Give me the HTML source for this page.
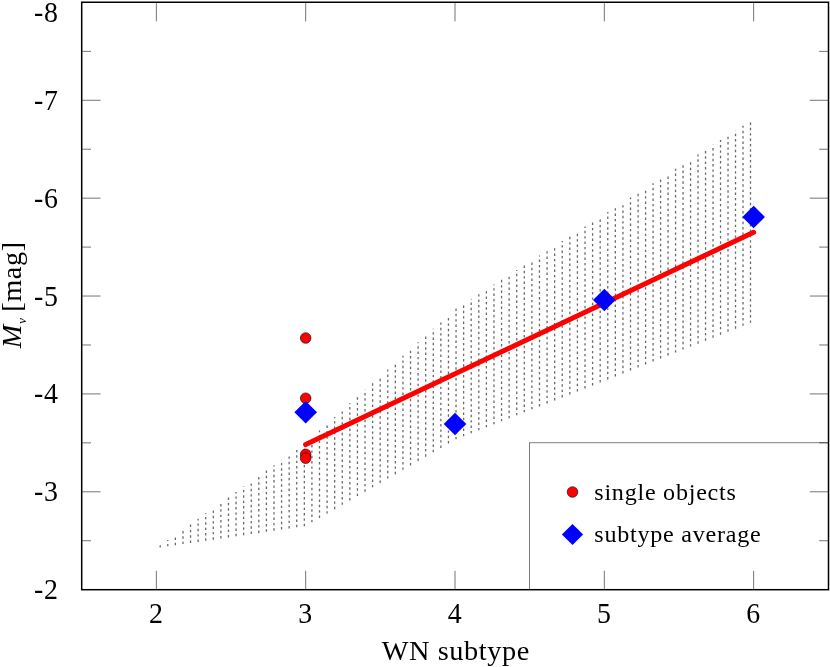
<!DOCTYPE html>
<html><head><meta charset="utf-8"><title>WN subtype vs Mv</title>
<style>html,body{margin:0;padding:0;background:#fff}svg{display:block;will-change:transform}text{font-family:"Liberation Serif",serif}</style>
</head><body>
<svg width="830" height="667" viewBox="0 0 830 667">
<rect width="830" height="667" fill="#fff"/>
<path d="M160.20 547.49V545.36M167.79 546.37V540.01M175.37 545.25V534.67M182.96 544.12V529.32M190.54 543.00V523.98M198.13 541.88V518.63M205.71 540.75V513.29M213.30 539.63V507.94M220.89 538.51V502.60M228.47 537.38V497.25M236.06 536.26V491.91M243.64 535.13V486.56M251.23 534.01V481.22M258.81 532.89V475.87M266.40 531.76V470.53M273.99 530.64V465.18M281.57 529.52V459.84M289.16 528.39V454.49M296.74 527.27V449.15M304.33 526.14V443.80M311.91 522.34V437.27M319.50 517.96V430.49M327.09 513.58V423.70M334.67 509.20V416.91M342.26 504.82V410.12M349.84 500.44V403.34M357.43 496.06V396.55M365.01 491.68V389.76M372.60 487.30V382.98M380.19 482.92V376.19M387.77 478.54V369.40M395.36 474.16V362.62M402.94 469.78V355.83M410.53 465.40V349.04M418.11 461.02V342.25M425.70 456.64V335.47M433.29 452.26V328.68M440.87 447.88V321.89M448.46 443.50V315.11M456.04 439.31V308.59M463.63 436.31V303.77M471.21 433.32V298.94M478.80 430.33V294.12M486.39 427.33V289.30M493.97 424.34V284.48M501.56 421.35V279.65M509.14 418.35V274.83M516.73 415.36V270.01M524.31 412.37V265.18M531.90 409.37V260.36M539.49 406.38V255.54M547.07 403.39V250.71M554.66 400.39V245.89M562.24 397.40V241.07M569.83 394.41V236.25M577.41 391.41V231.42M585.00 388.42V226.60M592.59 385.43V221.78M600.17 382.44V216.95M607.76 379.44V212.12M615.34 376.43V207.27M622.93 373.42V202.42M630.51 370.41V197.58M638.10 367.40V192.73M645.59 364.43V187.94M653.09 361.46V183.15M660.58 358.49V178.36M668.07 355.52V173.57M675.57 352.55V168.78M683.06 349.57V164.00M690.55 346.60V159.21M698.05 343.63V154.42M705.54 340.66V149.63M713.03 337.69V144.84M720.53 334.72V140.05M728.02 331.74V135.26M735.51 328.77V130.47M743.01 325.80V125.68M750.50 322.83V120.90" fill="none" stroke="#686868" stroke-width="1.3" stroke-dasharray="2.4 2.95"/>
<rect x="529.66" y="442.85" width="298.84" height="146.85" fill="#fff" stroke="#000" stroke-width="0.5"/>
<path d="M156.36 2.25V21.4M156.36 589.70V570.8M305.68 2.25V21.4M305.68 589.70V570.8M455.00 2.25V21.4M455.00 589.70V570.8M604.32 2.25V21.4M604.32 589.70V570.8M753.64 2.25V21.4M753.64 589.70V570.8M81.70 51.36h9.3M828.50 51.36h-9.3M81.70 100.29h18.8M828.50 100.29h-18.8M81.70 149.23h9.3M828.50 149.23h-9.3M81.70 198.17h18.8M828.50 198.17h-18.8M81.70 247.10h9.3M828.50 247.10h-9.3M81.70 296.04h18.8M828.50 296.04h-18.8M81.70 344.98h9.3M828.50 344.98h-9.3M81.70 393.91h18.8M828.50 393.91h-18.8M81.70 442.85h9.3M828.50 442.85h-9.3M81.70 491.79h18.8M828.50 491.79h-18.8M81.70 540.72h9.3M828.50 540.72h-9.3" fill="none" stroke="#000" stroke-width="0.55"/>
<rect x="81.70" y="2.25" width="746.80" height="587.45" fill="none" stroke="#000" stroke-width="1.5"/>
<line x1="305.68" y1="444.61" x2="753.64" y2="232.32" stroke="#f00" stroke-width="5" stroke-linecap="round"/>
<circle cx="305.68" cy="338.03" r="5.3" fill="#f00" stroke="#000" stroke-width="0.6"/>
<circle cx="305.68" cy="398.22" r="5.3" fill="#f00" stroke="#000" stroke-width="0.6"/>
<circle cx="305.68" cy="454.30" r="5.3" fill="#f00" stroke="#000" stroke-width="0.6"/>
<circle cx="305.68" cy="458.22" r="5.3" fill="#f00" stroke="#000" stroke-width="0.6"/>
<path d="M305.68 400.92L316.98 412.22L305.68 423.52L294.38 412.22Z" fill="#00f"/>
<path d="M455.00 412.76L466.30 424.06L455.00 435.36L443.70 424.06Z" fill="#00f"/>
<path d="M604.32 288.65L615.62 299.95L604.32 311.25L593.02 299.95Z" fill="#00f"/>
<path d="M753.64 205.76L764.94 217.06L753.64 228.36L742.34 217.06Z" fill="#00f"/>
<circle cx="572.5" cy="492.0" r="5.3" fill="#f00" stroke="#000" stroke-width="0.6"/>
<path d="M572.50 523.90L583.10 534.50L572.50 545.10L561.90 534.50Z" fill="#00f"/>
<g style="font-family:'Liberation Serif',serif;font-size:28.3px;letter-spacing:0.6px;fill:#000"><text transform="translate(58.5,21.90) scale(0.985,1.06)" text-anchor="end">-8</text><text transform="translate(58.5,109.79) scale(0.985,1.06)" text-anchor="end">-7</text><text transform="translate(58.5,207.67) scale(0.985,1.06)" text-anchor="end">-6</text><text transform="translate(58.5,305.54) scale(0.985,1.06)" text-anchor="end">-5</text><text transform="translate(58.5,403.41) scale(0.985,1.06)" text-anchor="end">-4</text><text transform="translate(58.5,501.29) scale(0.985,1.06)" text-anchor="end">-3</text><text transform="translate(58.5,599.16) scale(0.985,1.06)" text-anchor="end">-2</text><text transform="translate(156.26,622.7) scale(0.985,1.06)" text-anchor="middle">2</text><text transform="translate(305.58,622.7) scale(0.985,1.06)" text-anchor="middle">3</text><text transform="translate(454.90,622.7) scale(0.985,1.06)" text-anchor="middle">4</text><text transform="translate(604.22,622.7) scale(0.985,1.06)" text-anchor="middle">5</text><text transform="translate(753.54,622.7) scale(0.985,1.06)" text-anchor="middle">6</text><text x="455.8" y="659.9" text-anchor="middle">WN subtype</text><text transform="translate(20.9,348.2) rotate(-90)"><tspan font-style="italic">M</tspan><tspan font-style="italic" font-size="13.5px" dy="5.3">v</tspan><tspan dy="-5.3" dx="-2"> [mag]</tspan></text><text x="594.3" y="499.7" style="font-size:24.1px;letter-spacing:0.75px">single objects</text><text x="594.3" y="542.1" style="font-size:24.1px;letter-spacing:0.75px">subtype average</text></g>
</svg>
</body></html>
